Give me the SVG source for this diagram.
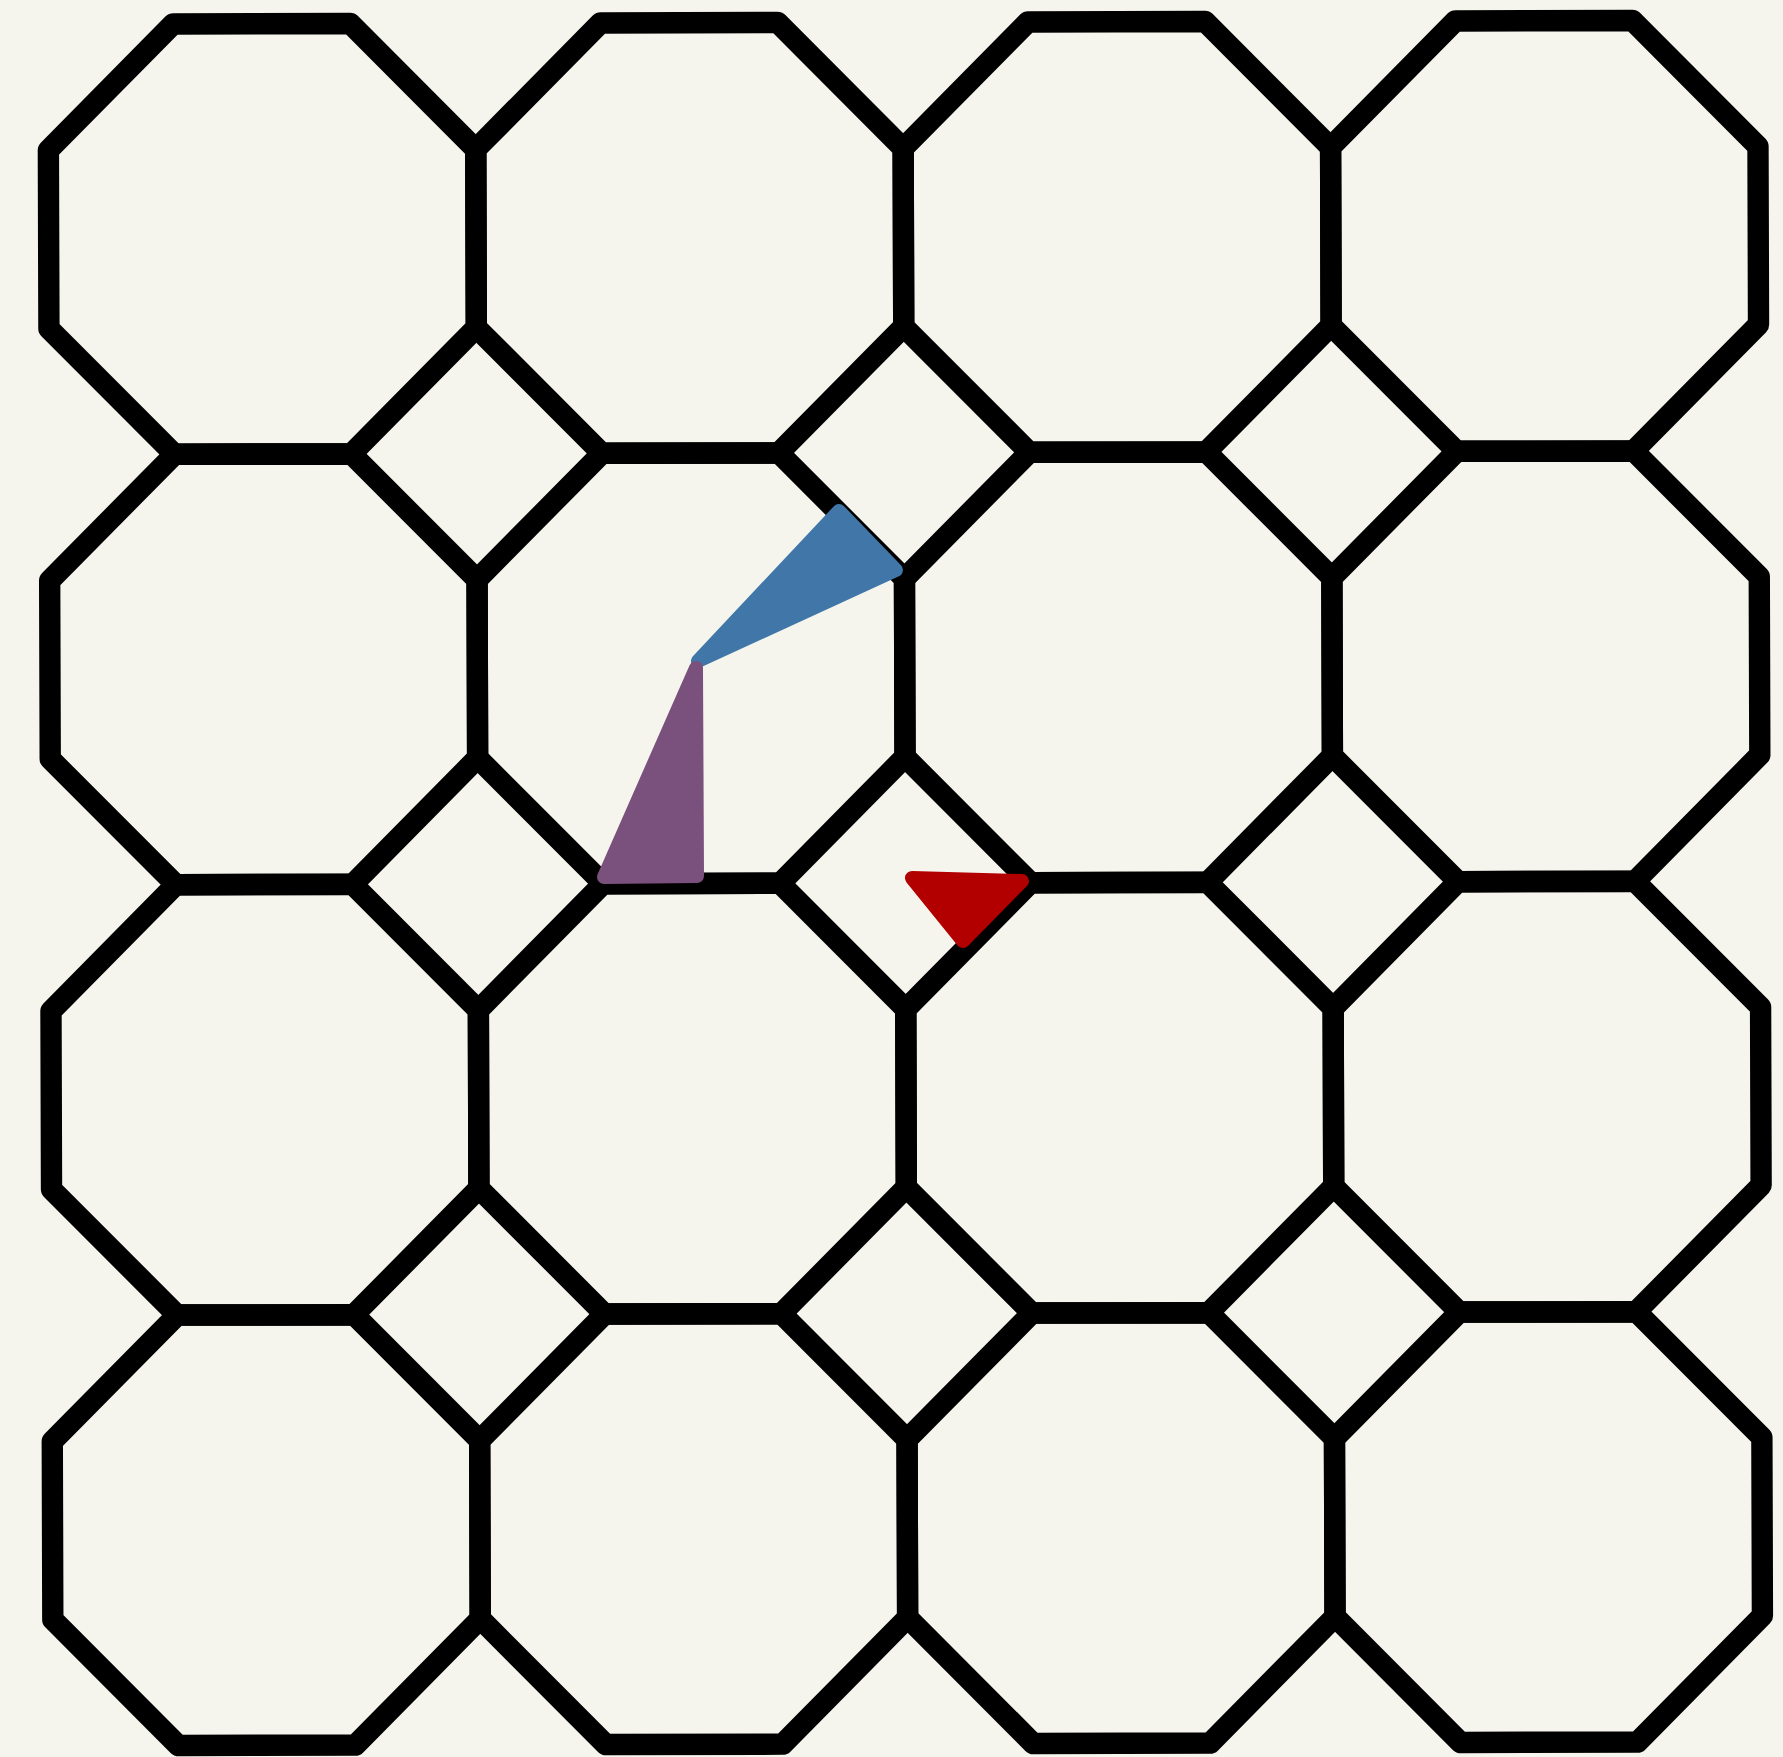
<svg xmlns="http://www.w3.org/2000/svg" xmlns:xlink="http://www.w3.org/1999/xlink" width="1783" height="1757" viewBox="0 0 1783 1757">
<style>
.oct{fill:none;stroke:#000;stroke-width:5;stroke-linejoin:round}
.tri{stroke-width:14;stroke-linejoin:round}
</style>
<defs>
<polygon id="oct" class="oct" points="29.29,0 70.71,0 100,29.29 100,70.71 70.71,100 29.29,100 0,70.71 0,29.29"/>
</defs>
<rect width="1783" height="1757" fill="#f5f5ee"/>
<g id="tiling" transform="matrix(4.274 -0.010 0.013 4.304 48.0 24.2)">
<g id="oct-r0c0"><use href="#oct" x="0" y="0"/></g>
<g id="oct-r0c1"><use href="#oct" x="100" y="0"/></g>
<g id="oct-r0c2"><use href="#oct" x="200" y="0"/></g>
<g id="oct-r0c3"><use href="#oct" x="300" y="0"/></g>
<g id="oct-r1c0"><use href="#oct" x="0" y="100"/></g>
<g id="oct-r1c1"><use href="#oct" x="100" y="100"/></g>
<g id="oct-r1c2"><use href="#oct" x="200" y="100"/></g>
<g id="oct-r1c3"><use href="#oct" x="300" y="100"/></g>
<g id="oct-r2c0"><use href="#oct" x="0" y="200"/></g>
<g id="oct-r2c1"><use href="#oct" x="100" y="200"/></g>
<g id="oct-r2c2"><use href="#oct" x="200" y="200"/></g>
<g id="oct-r2c3"><use href="#oct" x="300" y="200"/></g>
<g id="oct-r3c0"><use href="#oct" x="0" y="300"/></g>
<g id="oct-r3c1"><use href="#oct" x="100" y="300"/></g>
<g id="oct-r3c2"><use href="#oct" x="200" y="300"/></g>
<g id="oct-r3c3"><use href="#oct" x="300" y="300"/></g>
</g>
<g id="triangles">
<g id="tri-blue"><polygon class="tri" fill="#4077a8" stroke="#4077a8" points="839,511 896,570 698,661"/></g>
<g id="tri-purple"><polygon class="tri" fill="#7a507c" stroke="#7a507c" points="696,668 697,876 604,877"/></g>
<g id="tri-red"><polygon class="tri" fill="#b20000" stroke="#b20000" points="912,878 1022,881 963,941"/></g>
</g>
</svg>
